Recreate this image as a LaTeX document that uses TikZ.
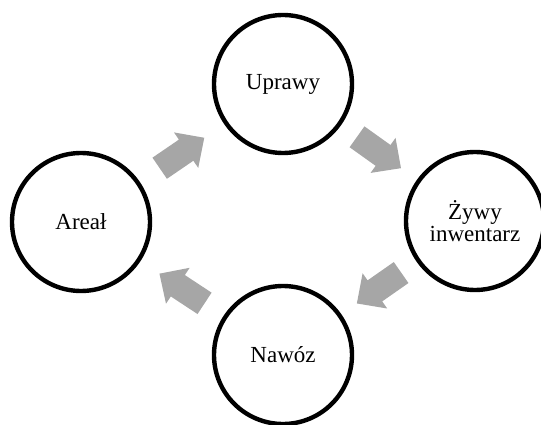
\documentclass[tikz,border=0pt]{standalone}
\usepackage{fontspec}
\setmainfont{Liberation Serif}
\usetikzlibrary{calc}
\definecolor{arrowgray}{RGB}{166,166,166}
\tikzset{
  stage/.style={circle, draw=black, line width=4.4pt, minimum size=138pt,
    inner sep=0pt, align=center, font=\fontsize{23}{21.5}\selectfont},
  flowarrow/.pic={
    \fill[arrowgray] (-27,-12.8) -- (5,-12.8) -- (5,-21.5) -- (27,0)
      -- (5,21.5) -- (5,12.8) -- (-27,12.8) -- cycle;
  }
}
\begin{document}
\begin{tikzpicture}[x=1pt, y=-1pt]
  \useasboundingbox (0,0) rectangle (541,425);

  % the four stages of the cycle
  \node[stage] (crops)     at (283,84)  {Uprawy};
  \node[stage] (livestock) at (475,221) {Żywy\\inwentarz};
  \node[stage] (manure)    at (283,355) {Nawóz};
  \node[stage] (area)      at (81,222)  {Areał};

  % block arrows placed halfway between neighbouring stages
  \foreach \a/\b in {area/crops, crops/livestock, livestock/manure, manure/area}{
    \path let \p1 = ($(\b)-(\a)$), \n1 = {atan2(\y1,\x1)} in
      ($(\a)!0.5!(\b)$) pic[rotate=\n1] {flowarrow};
  }
\end{tikzpicture}
\end{document}
